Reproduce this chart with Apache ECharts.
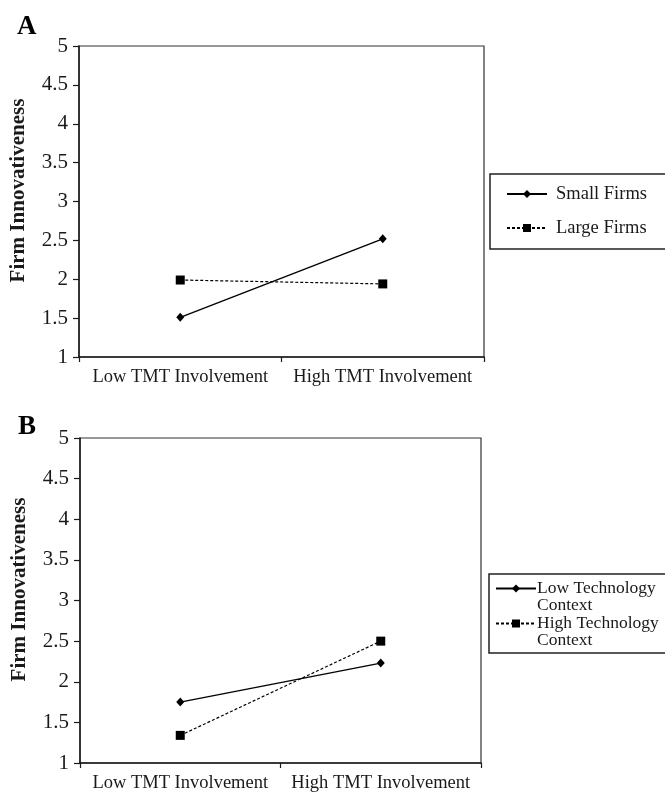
<!DOCTYPE html>
<html>
<head>
<meta charset="utf-8">
<script src="https://cdn.jsdelivr.net/npm/echarts@6/dist/echarts.min.js"></script>
<style>
html,body{margin:0;padding:0;background:#fff;}
#chart{width:665px;height:793px;}
</style>
</head>
<body>
<div id="chart"></div>
<script>
// ---- data ----
var categories = ['Low TMT Involvement', 'High TMT Involvement'];
var yTicks = { min: 1, max: 5, interval: 0.5 };
var yAxisTitle = 'Firm Innovativeness';

var panelALabel = 'A';
var smallFirms = [1.51, 2.52];
var largeFirms = [1.99, 1.94];
var namesA = ['Small Firms', 'Large Firms'];

var panelBLabel = 'B';
var lowTechContext = [1.75, 2.23];
var highTechContext = [1.34, 2.50];
var namesB = ['Low Technology\nContext', 'High Technology\nContext'];

// ---- chart ----
var FONT = '"Liberation Serif", "Times New Roman", serif';
var INK = '#1a1a1a';

function xAx(gi) {
  return {
    type: 'category', gridIndex: gi, data: categories, boundaryGap: true,
    axisLine: { show: true, lineStyle: { color: INK, width: 1.5 } },
    axisTick: { show: true, inside: false, length: 5, lineStyle: { color: INK, width: 1.2 } },
    axisLabel: { fontFamily: FONT, fontSize: 18.5, color: INK, margin: 11, interval: 0, hideOverlap: false },
    splitLine: { show: false }
  };
}
function yAx(gi) {
  return {
    type: 'value', gridIndex: gi, min: yTicks.min, max: yTicks.max, interval: yTicks.interval,
    name: yAxisTitle, nameLocation: 'middle', nameRotate: 90, nameGap: 50,
    nameTextStyle: { fontFamily: FONT, fontSize: 21, fontWeight: 'bold', color: INK, padding: [0, 0, 0, 22] },
    axisLine: { show: true, lineStyle: { color: INK, width: 1.5 } },
    axisTick: { show: true, inside: false, length: 6, lineStyle: { color: INK, width: 1.2 } },
    axisLabel: { fontFamily: FONT, fontSize: 21, color: INK, margin: 11 },
    splitLine: { show: false }
  };
}
function solidSeries(name, data, idx) {
  return {
    name: name, type: 'line', xAxisIndex: idx, yAxisIndex: idx, data: data,
    symbol: 'diamond', symbolSize: [8, 9], color: '#000',
    lineStyle: { color: '#000', width: 1.4, type: 'solid' },
    itemStyle: { color: '#000' }, animation: false
  };
}
function dashedSeries(name, data, idx) {
  return {
    name: name, type: 'line', xAxisIndex: idx, yAxisIndex: idx, data: data,
    symbol: 'rect', symbolSize: 9, color: '#000',
    lineStyle: { color: '#000', width: 1.2, type: [3, 2] },
    itemStyle: { color: '#000' }, animation: false
  };
}

var chart = echarts.init(document.getElementById('chart'), null, { renderer: 'canvas' });
chart.setOption({
  backgroundColor: '#fff',
  animation: false,
  title: [
    { text: panelALabel, left: 12, top: 9, textStyle: { fontFamily: FONT, fontSize: 27, fontWeight: 'bold', color: '#000' } },
    { text: panelBLabel, left: 13, top: 409, textStyle: { fontFamily: FONT, fontSize: 27, fontWeight: 'bold', color: '#000' } }
  ],
  grid: [
    { left: 79, right: 181, top: 46, bottom: 436, containLabel: false, outerBoundsMode: 'none', show: true, borderColor: '#333', borderWidth: 1.2, backgroundColor: 'transparent' },
    { left: 80, right: 184, top: 438, bottom: 30, containLabel: false, outerBoundsMode: 'none', show: true, borderColor: '#333', borderWidth: 1.2, backgroundColor: 'transparent' }
  ],
  xAxis: [xAx(0), xAx(1)],
  yAxis: [yAx(0), yAx(1)],
  legend: [
    {
      data: namesA, orient: 'vertical', left: 490, top: 174,
      padding: [10.5, 20, 11.5, 16], itemGap: 15, itemWidth: 40, itemHeight: 10,
      borderColor: '#222', borderWidth: 1.5, backgroundColor: '#fff',
      textStyle: { fontFamily: FONT, fontSize: 18.5, color: INK, padding: [0, 0, 0, 4] },
      selectedMode: false
    },
    {
      data: namesB, orient: 'vertical', left: 489, top: 574,
      padding: [5.5, 20, 3.5, 6], itemGap: 0, itemWidth: 40, itemHeight: 10,
      borderColor: '#222', borderWidth: 1.5, backgroundColor: '#fff',
      formatter: function (name) {
        return name.split('\n').map(function (s) { return '{t|' + s + '}'; }).join('\n');
      },
      textStyle: {
        fontFamily: FONT, fontSize: 17.5, lineHeight: 17, color: INK, padding: [0, 0, -17, -4],
        rich: { t: { fontFamily: FONT, fontSize: 17.5, lineHeight: 17, color: INK } }
      },
      selectedMode: false
    }
  ],
  series: [
    solidSeries(namesA[0], smallFirms, 0),
    dashedSeries(namesA[1], largeFirms, 0),
    solidSeries(namesB[0], lowTechContext, 1),
    dashedSeries(namesB[1], highTechContext, 1)
  ]
});
</script>
</body>
</html>
